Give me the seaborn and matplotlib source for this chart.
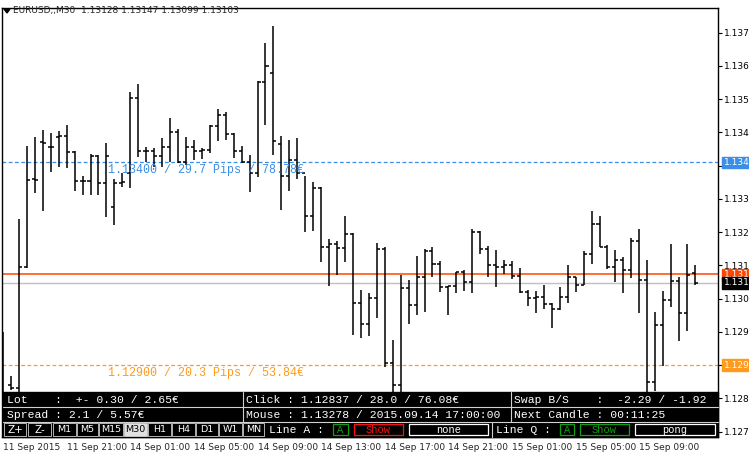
import matplotlib
matplotlib.use("Agg")
import matplotlib.pyplot as plt
from matplotlib.patches import Rectangle, Polygon
import seaborn as sns
import numpy as np

# EURUSD M30 bars, 11 Sep 2015 17:00 onwards
opens = [1.12815, 1.12852, 1.12844, 1.13143, 1.13360, 1.13451, 1.13438, 1.13463, 1.13466, 1.13426,
         1.13355, 1.13355, 1.13416, 1.13350, 1.13291, 1.13350, 1.13374, 1.13559, 1.13429, 1.13429,
         1.13416, 1.13438, 1.13476, 1.13402, 1.13438, 1.13429, 1.13431, 1.13490, 1.13517, 1.13471,
         1.13429, 1.13402, 1.13374, 1.13599, 1.13621, 1.13446, 1.13367, 1.13406, 1.13374, 1.13268,
         1.13337, 1.13192, 1.13199, 1.13189, 1.13224, 1.13054, 1.13002, 1.13066, 1.13187, 1.12906,
         1.12852, 1.13091, 1.13049, 1.13118, 1.13182, 1.13150, 1.13093, 1.13096, 1.13130, 1.13106,
         1.13229, 1.13187, 1.13148, 1.13143, 1.13148, 1.13120, 1.13081, 1.13066, 1.13069, 1.13051,
         1.13039, 1.13069, 1.13118, 1.13098, 1.13175, 1.13249, 1.13192, 1.13143, 1.13160, 1.13135,
         1.13207, 1.13111, 1.12859, 1.12999, 1.13061, 1.13108, 1.13029, 1.13128]
highs = [1.12982, 1.12874, 1.13261, 1.13441, 1.13463, 1.13480, 1.13473, 1.13478, 1.13493, 1.13429,
         1.13367, 1.13421, 1.13419, 1.13448, 1.13360, 1.13374, 1.13574, 1.13594, 1.13438, 1.13436,
         1.13461, 1.13510, 1.13483, 1.13463, 1.13456, 1.13436, 1.13493, 1.13532, 1.13525, 1.13473,
         1.13441, 1.13419, 1.13601, 1.13695, 1.13737, 1.13466, 1.13456, 1.13461, 1.13367, 1.13352,
         1.13340, 1.13212, 1.13207, 1.13268, 1.13226, 1.13086, 1.13078, 1.13202, 1.13192, 1.12963,
         1.13123, 1.13111, 1.13170, 1.13187, 1.13192, 1.13157, 1.13096, 1.13130, 1.13135, 1.13236,
         1.13231, 1.13194, 1.13184, 1.13160, 1.13157, 1.13140, 1.13086, 1.13083, 1.13098, 1.13054,
         1.13093, 1.13148, 1.13118, 1.13182, 1.13281, 1.13268, 1.13197, 1.13184, 1.13167, 1.13214,
         1.13236, 1.13160, 1.13032, 1.13083, 1.13199, 1.13118, 1.13199, 1.13147]
lows = [1.12765, 1.12839, 1.12790, 1.13140, 1.13325, 1.13281, 1.13377, 1.13389, 1.13387, 1.13330,
        1.13320, 1.13320, 1.13320, 1.13266, 1.13246, 1.13340, 1.13337, 1.13414, 1.13402, 1.13389,
        1.13389, 1.13402, 1.13399, 1.13394, 1.13406, 1.13409, 1.13424, 1.13453, 1.13456, 1.13411,
        1.13399, 1.13328, 1.13365, 1.13493, 1.13419, 1.13283, 1.13330, 1.13360, 1.13229, 1.13231,
        1.13155, 1.13096, 1.13123, 1.13155, 1.12975, 1.12968, 1.12973, 1.13017, 1.12896, 1.12790,
        1.12790, 1.13002, 1.13024, 1.13032, 1.13118, 1.13081, 1.13024, 1.13078, 1.13083, 1.13078,
        1.13175, 1.13118, 1.13093, 1.13125, 1.13113, 1.13078, 1.13046, 1.13029, 1.13039, 1.12992,
        1.13037, 1.13054, 1.13081, 1.13098, 1.13150, 1.13192, 1.13138, 1.13106, 1.13078, 1.13115,
        1.13029, 1.12790, 1.12837, 1.12898, 1.13044, 1.12960, 1.12985, 1.13099]
closes = [1.12827, 1.12844, 1.13143, 1.13357, 1.13358, 1.13449, 1.13438, 1.13466, 1.13426, 1.13355,
          1.13355, 1.13416, 1.13350, 1.13416, 1.13350, 1.13352, 1.13559, 1.13429, 1.13429, 1.13416,
          1.13438, 1.13476, 1.13402, 1.13438, 1.13429, 1.13431, 1.13490, 1.13517, 1.13471, 1.13429,
          1.13402, 1.13374, 1.13599, 1.13638, 1.13453, 1.13367, 1.13406, 1.13374, 1.13268, 1.13337,
          1.13192, 1.13199, 1.13189, 1.13224, 1.13054, 1.13002, 1.13066, 1.13187, 1.12906, 1.12852,
          1.13091, 1.13049, 1.13118, 1.13182, 1.13150, 1.13093, 1.13096, 1.13130, 1.13106, 1.13229,
          1.13187, 1.13148, 1.13143, 1.13148, 1.13120, 1.13081, 1.13066, 1.13069, 1.13051, 1.13039,
          1.13069, 1.13118, 1.13098, 1.13175, 1.13249, 1.13192, 1.13143, 1.13160, 1.13135, 1.13207,
          1.13111, 1.12859, 1.12999, 1.13061, 1.13108, 1.13029, 1.13123, 1.13103]

time_labels = ["11 Sep 2015", "11 Sep 21:00", "14 Sep 01:00", "14 Sep 05:00", "14 Sep 09:00",
               "14 Sep 13:00", "14 Sep 17:00", "14 Sep 21:00", "15 Sep 01:00", "15 Sep 05:00",
               "15 Sep 09:00"]
price_ticks = [1.13720, 1.13638, 1.13556, 1.13474, 1.13392, 1.13310, 1.13228, 1.13146,
               1.13064, 1.12982, 1.12900, 1.12818, 1.12736]

bid = 1.13103
ask = 1.13124
line_a = 1.13400
line_q = 1.12900

sns.set_theme(style="white")
plt.rcParams["font.family"] = ["DejaVu Sans"]

fig = plt.figure(figsize=(7.49, 4.54), dpi=100)
ax = fig.add_axes([2 / 749, 17 / 454, 716 / 749, 429 / 454])
ax.set_facecolor("white")

n = len(opens)
idx = np.arange(n)
ax.axhline(bid, color="#c0c0c0", lw=1, zorder=1)
ax.axhline(ask, color="#ff4500", lw=1.1, zorder=1)
ax.axhline(line_a, color="#3a8ee6", lw=0.9, ls=(0, (3, 2)), zorder=1)
ax.axhline(line_q, color="#ff9a1a", lw=0.9, ls=(0, (3, 2)), zorder=1)

ax.vlines(idx, lows, highs, color="black", lw=1.1, zorder=3)
ax.hlines(opens, idx - 0.38, idx, color="black", lw=1.1, zorder=3)
ax.hlines(closes, idx, idx + 0.38, color="black", lw=1.1, zorder=3)

ax.set_xlim(-0.13, 89.9)
ax.set_ylim(1.12723, 1.13781)

ax.yaxis.tick_right()
ax.set_yticks(price_ticks)
ax.set_yticklabels([f"{int(p * 1000) / 1000:.3f}" for p in price_ticks], fontsize=6.5)
ax.set_xticks(idx[::8][:len(time_labels)])
ax.set_xticklabels(time_labels, fontsize=6.5, ha="left")
ax.tick_params(axis="both", length=3, width=0.8, color="black", pad=1.5, direction="out")
ax.tick_params(axis="y", labelcolor="black")
for s in ax.spines.values():
    s.set_color("black")
    s.set_linewidth(1)

mono = "Liberation Mono"
ax.text(0.148, line_a - 0.00018, "1.13400 / 29.7 Pips / 78.78€", color="#3a8ee6",
        fontsize=8.4, family=mono, transform=ax.get_yaxis_transform(), va="center")
ax.text(0.148, line_q - 0.00018, "1.12900 / 20.3 Pips / 53.84€", color="#ff9a1a",
        fontsize=8.4, family=mono, transform=ax.get_yaxis_transform(), va="center")

# price tags on the right scale
for val, txt, bg, fg in [(line_a, "1.134", "#3a8ee6", "white"), (ask, "1.131", "#ff4500", "white"),
                         (bid, "1.131", "black", "white"), (line_q, "1.129", "#ff9a1a", "white")]:
    ax.annotate(txt, xy=(1.0, val), xycoords=("axes fraction", "data"), xytext=(4, 0),
                textcoords="offset points", fontsize=6.5, color=fg, va="center", ha="left",
                bbox=dict(boxstyle="square,pad=0.15", fc=bg, ec=bg))

# overlay in pixel space for header and trading panel
ov = fig.add_axes([0, 0, 1, 1], zorder=10)
ov.set_xlim(0, 749)
ov.set_ylim(454, 0)
ov.axis("off")
ov.patch.set_alpha(0)

ov.add_patch(Polygon([[4, 9], [10, 9], [7, 13]], closed=True, color="black"))
ov.text(13, 11, "EURUSD,,M30  1.13128 1.13147 1.13099 1.13103", fontsize=6.5, va="center")

ov.add_patch(Rectangle((3, 392), 715, 45, color="black"))
for y in (407, 422):
    ov.plot([3, 718], [y, y], color="#d0d0d0", lw=0.8)
for x in (243, 511):
    ov.plot([x, x], [392, 422], color="#d0d0d0", lw=0.8)

rows = [
    [(7, "Lot    :  +- 0.30 / 2.65€"), (246, "Click : 1.12837 / 28.0 / 76.08€"),
     (514, "Swap B/S    :  -2.29 / -1.92")],
    [(7, "Spread : 2.1 / 5.57€"), (246, "Mouse : 1.13278 / 2015.09.14 17:00:00"),
     (514, "Next Candle : 00:11:25")],
]
for r, row in enumerate(rows):
    for x, txt in row:
        ov.text(x, 400 + 15 * r, txt, color="white", fontsize=8.2, family=mono, va="center")

buttons = [("Z+", 4, 26), ("Z-", 28, 51), ("M1", 53, 76), ("M5", 77, 98), ("M15", 99, 123),
           ("M30", 124, 147), ("H1", 148, 171), ("H4", 172, 195), ("D1", 196, 218),
           ("W1", 219, 242), ("MN", 243, 264)]
for lab, x0, x1 in buttons:
    active = lab == "M30"
    ov.add_patch(Rectangle((x0, 423), x1 - x0, 13, fc="#e0e0e0" if active else "black",
                           ec="#d0d0d0", lw=0.6))
    ov.text((x0 + x1) / 2, 430, lab, color="black" if active else "white",
            fontsize=7.5 if lab in ("Z+", "Z-") else 6.8, ha="center", va="center")

ov.text(269, 430, "Line A :", color="white", fontsize=8.2, family=mono, va="center")
ov.text(496, 430, "Line Q :", color="white", fontsize=8.2, family=mono, va="center")
ov.plot([492, 492], [422, 437], color="#d0d0d0", lw=0.8)
boxes = [(333, 348, "A", "#10a010"), (354, 403, "Show", "#ff1010"), (409, 488, "none", "white"),
         (560, 574, "A", "#10a010"), (580, 629, "Show", "#10a010"), (635, 715, "pong", "white")]
for x0, x1, lab, col in boxes:
    ov.add_patch(Rectangle((x0, 424), x1 - x0, 11, fc="black", ec=col, lw=0.9))
    ov.text((x0 + x1) / 2, 430, lab, color=col, fontsize=7.5, family=mono, ha="center", va="center")

fig.savefig("out.png", dpi=100)
